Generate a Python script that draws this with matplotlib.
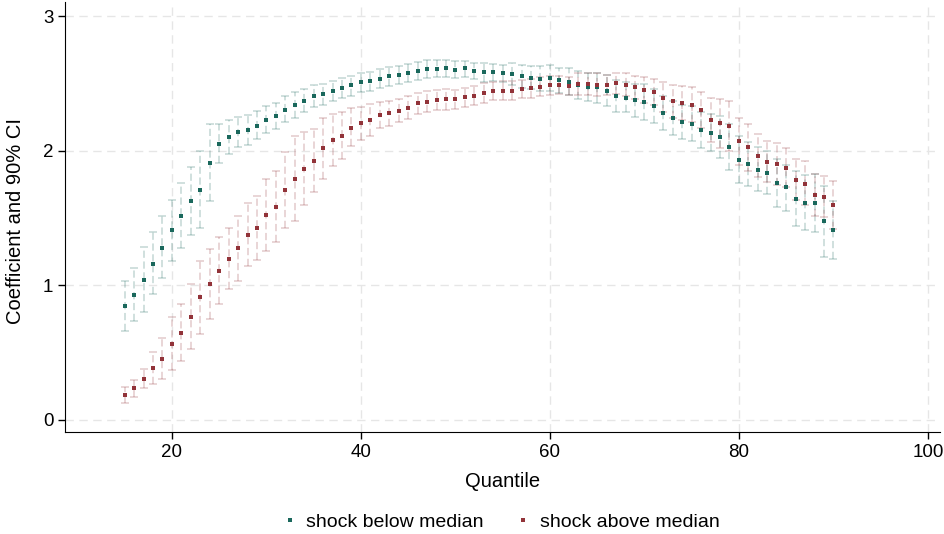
import numpy as np
import matplotlib
matplotlib.use("Agg")
import matplotlib.pyplot as plt

plt.rcParams['font.family'] = ['Liberation Sans', 'DejaVu Sans']

quantile = list(range(15, 91))

below_coef = [0.845, 0.927, 1.04, 1.16, 1.28, 1.407, 1.518, 1.627, 1.711, 1.912,
              2.053, 2.102, 2.142, 2.157, 2.186, 2.231, 2.258, 2.307, 2.337, 2.372,
              2.409, 2.424, 2.448, 2.468, 2.486, 2.508, 2.518, 2.537, 2.555, 2.565,
              2.58, 2.597, 2.61, 2.612, 2.614, 2.604, 2.617, 2.595, 2.585, 2.585,
              2.575, 2.57, 2.555, 2.543, 2.537, 2.543, 2.526, 2.515, 2.488, 2.476,
              2.471, 2.446, 2.411, 2.392, 2.375, 2.362, 2.333, 2.283, 2.246, 2.211,
              2.201, 2.154, 2.134, 2.102, 2.025, 1.932, 1.899, 1.86, 1.837, 1.758,
              1.728, 1.642, 1.612, 1.61, 1.476, 1.414]
below_lo = [0.657, 0.731, 0.80, 0.932, 1.053, 1.179, 1.278, 1.375, 1.424, 1.624,
            1.906, 1.978, 2.03, 2.043, 2.085, 2.13, 2.159, 2.211, 2.243, 2.288,
            2.327, 2.344, 2.372, 2.392, 2.411, 2.439, 2.446, 2.47, 2.483, 2.50,
            2.515, 2.53, 2.545, 2.55, 2.552, 2.545, 2.552, 2.537, 2.515, 2.518,
            2.508, 2.488, 2.47, 2.459, 2.446, 2.446, 2.431, 2.416, 2.385, 2.367,
            2.357, 2.335, 2.29, 2.285, 2.248, 2.229, 2.206, 2.157, 2.12, 2.085,
            2.075, 2.023, 1.996, 1.949, 1.857, 1.758, 1.741, 1.699, 1.679, 1.58,
            1.553, 1.439, 1.412, 1.394, 1.209, 1.192]
below_hi = [1.03, 1.125, 1.283, 1.394, 1.513, 1.635, 1.763, 1.88, 1.999, 2.196,
            2.20, 2.226, 2.251, 2.266, 2.293, 2.333, 2.357, 2.404, 2.437, 2.456,
            2.488, 2.50, 2.52, 2.54, 2.555, 2.577, 2.587, 2.61, 2.624, 2.63,
            2.644, 2.664, 2.674, 2.674, 2.674, 2.669, 2.671, 2.652, 2.652, 2.648,
            2.641, 2.656, 2.641, 2.632, 2.632, 2.637, 2.617, 2.614, 2.59, 2.582,
            2.58, 2.563, 2.53, 2.508, 2.50, 2.496, 2.459, 2.409, 2.372, 2.34,
            2.33, 2.285, 2.273, 2.255, 2.199, 2.107, 2.062, 2.025, 1.996, 1.939,
            1.897, 1.847, 1.817, 1.826, 1.741, 1.624]

above_coef = [0.182, 0.232, 0.30, 0.382, 0.451, 0.563, 0.647, 0.766, 0.909, 1.008,
              1.107, 1.197, 1.273, 1.375, 1.424, 1.523, 1.583, 1.709, 1.793, 1.867,
              1.926, 2.018, 2.08, 2.112, 2.172, 2.204, 2.229, 2.263, 2.283, 2.298,
              2.32, 2.355, 2.364, 2.377, 2.385, 2.382, 2.402, 2.411, 2.431, 2.446,
              2.448, 2.448, 2.461, 2.466, 2.476, 2.488, 2.488, 2.483, 2.498, 2.50,
              2.49, 2.49, 2.503, 2.49, 2.471, 2.454, 2.437, 2.396, 2.367, 2.355,
              2.342, 2.305, 2.231, 2.204, 2.181, 2.073, 2.028, 1.961, 1.917, 1.902,
              1.874, 1.785, 1.756, 1.672, 1.657, 1.595]
above_lo = [0.12, 0.169, 0.236, 0.261, 0.303, 0.367, 0.434, 0.526, 0.64, 0.746,
            0.857, 0.969, 1.03, 1.142, 1.184, 1.253, 1.32, 1.424, 1.476, 1.595,
            1.691, 1.793, 1.887, 1.939, 2.033, 2.08, 2.112, 2.166, 2.186, 2.211,
            2.236, 2.273, 2.285, 2.303, 2.305, 2.308, 2.327, 2.34, 2.359, 2.377,
            2.377, 2.38, 2.389, 2.396, 2.406, 2.416, 2.421, 2.416, 2.413, 2.416,
            2.408, 2.413, 2.424, 2.407, 2.385, 2.359, 2.34, 2.285, 2.246, 2.229,
            2.216, 2.169, 2.067, 2.018, 2.0, 1.897, 1.852, 1.803, 1.766, 1.743,
            1.728, 1.637, 1.598, 1.513, 1.506, 1.42]
above_hi = [0.244, 0.293, 0.373, 0.503, 0.603, 0.763, 0.862, 1.006, 1.177, 1.271,
            1.357, 1.424, 1.513, 1.61, 1.664, 1.788, 1.847, 1.991, 2.11, 2.142,
            2.162, 2.243, 2.273, 2.285, 2.317, 2.327, 2.347, 2.362, 2.372, 2.385,
            2.407, 2.431, 2.441, 2.451, 2.458, 2.451, 2.47, 2.483, 2.503, 2.513,
            2.52, 2.52, 2.525, 2.535, 2.55, 2.557, 2.557, 2.552, 2.582, 2.58,
            2.575, 2.567, 2.58, 2.575, 2.56, 2.55, 2.535, 2.513, 2.493, 2.483,
            2.471, 2.434, 2.396, 2.387, 2.367, 2.246, 2.199, 2.122, 2.07, 2.055,
            2.018, 1.936, 1.921, 1.828, 1.81, 1.773]

green = '#1a685c'
red = '#923339'

fig = plt.figure(figsize=(9.44, 5.34), dpi=100)
ax = fig.add_axes([0.069, 0.191, 0.927, 0.806])

# grid first so the points sit above it
ax.set_axisbelow(True)
ax.grid(True, color='#e6e6e6', linestyle=(0, (6, 4)), linewidth=1.0)

series = [
    (below_coef, below_lo, below_hi, green, 'shock below median'),
    (above_coef, above_lo, above_hi, red, 'shock above median'),
]
q = np.array(quantile)
for coef, lo, hi, col, lab in series:
    coef = np.array(coef)
    err = [coef - np.array(lo), np.array(hi) - coef]
    eb = ax.errorbar(q, coef, yerr=err, fmt='none', ecolor=col, alpha=0.22,
                     elinewidth=1.3, capsize=3.0, capthick=1.3)
    for lc in eb[2]:
        lc.set_linestyle((0, (4, 2)))
    ax.plot(q, coef, 's', color=col, markersize=3.0, markeredgewidth=0,
            label=lab, zorder=3)

ax.set_xlim(8.7, 101.3)
ax.set_ylim(-0.093, 3.11)
ax.set_xticks([20, 40, 60, 80, 100])
ax.set_yticks([0, 1, 2, 3])
ax.tick_params(labelsize=13.5, length=5, width=1.0, color='black', pad=3.5)
ax.spines['top'].set_visible(False)
ax.spines['right'].set_visible(False)
ax.set_xlabel('Quantile', fontsize=14.5)
ax.set_ylabel('Coefficient and 90% CI', fontsize=14.5)
ax.xaxis.set_label_coords(0.5, -0.114)
ax.xaxis.label.set_va('center')
ax.yaxis.set_label_coords(-0.057, 0.49)
ax.yaxis.label.set_va('center')

fig.legend(loc='center', bbox_to_anchor=(0.532, 0.0225), ncol=2, frameon=False,
           fontsize=14, handlelength=0.5, handletextpad=0.6, markerscale=1.0,
           columnspacing=1.8, borderpad=0)

fig.savefig('out.png', dpi=100)
